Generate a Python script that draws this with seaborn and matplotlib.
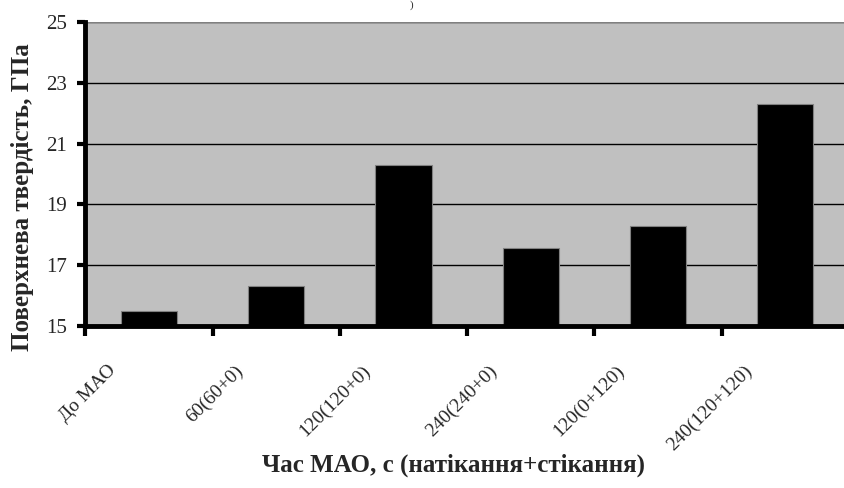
import matplotlib
matplotlib.use("Agg")
import matplotlib.pyplot as plt
import matplotlib.transforms as mtransforms
import seaborn as sns
import pandas as pd
import numpy as np

# data
categories = ["До МАО", "60(60+0)", "120(120+0)", "240(240+0)", "120(0+120)", "240(120+120)"]
hardness = [15.5, 16.3, 20.3, 17.55, 18.3, 22.3]
y_ticks = [15, 17, 19, 21, 23, 25]

df = pd.DataFrame({"mode": categories, "hardness": hardness})

sns.set_theme(style="white")
plt.rcParams["font.family"] = ["Liberation Serif", "DejaVu Serif"]

fig = plt.figure(figsize=(8.44, 4.88), dpi=100)
ax = fig.add_axes([0.101, 0.332, 0.905, 0.623])
ax.set_facecolor("#C0C0C0")

sns.barplot(data=df, x="mode", y="hardness", color="black", width=0.44,
            edgecolor="#808080", linewidth=0.8, saturation=1, ax=ax, zorder=3)

ax.set_ylim(15, 25)
ax.set_xlim(-0.5, 5.5)
ax.set_yticks(y_ticks)
ax.set_yticklabels([str(v) for v in y_ticks], fontsize=15)
ax.yaxis.grid(True, color="black", linewidth=1.0, zorder=1)
ax.set_axisbelow(True)

# category boundaries carry the tick marks
ax.set_xticks(np.arange(-0.5, 5.0, 1.0), minor=True)
ax.tick_params(axis="x", which="minor", length=7, width=3, color="black", direction="out", bottom=True)
ax.tick_params(axis="x", which="major", length=0, pad=26)
ax.tick_params(axis="y", which="major", length=6, width=3, color="black", direction="out", left=True, pad=7)
ax.set_xticks(range(len(categories)))
ax.set_xticklabels(categories, rotation=45, ha="right", fontsize=14)
shift = mtransforms.ScaledTranslation(-0.3, 0, fig.dpi_scale_trans)
for lab in ax.get_xticklabels():
    lab.set_transform(lab.get_transform() + shift)

for side in ["top", "right"]:
    ax.spines[side].set_visible(False)
for side in ["left", "bottom"]:
    ax.spines[side].set_color("black")
    ax.spines[side].set_linewidth(3.5)
    ax.spines[side].set_zorder(4)
ax.axhline(25, color="#808080", linewidth=1.5, zorder=2)

ax.set_xlabel("Час МАО, с (натікання+стікання)", fontsize=18, fontweight="bold")
ax.set_ylabel("Поверхнева твердість, ГПа", fontsize=18, fontweight="bold")
ax.xaxis.set_label_coords(0.482, -0.42)
ax.yaxis.set_label_coords(-0.067, 0.424)

fig.text(0.487, 0.999, ")", fontsize=8, ha="center", va="top")

fig.savefig("out.png", dpi=100)
